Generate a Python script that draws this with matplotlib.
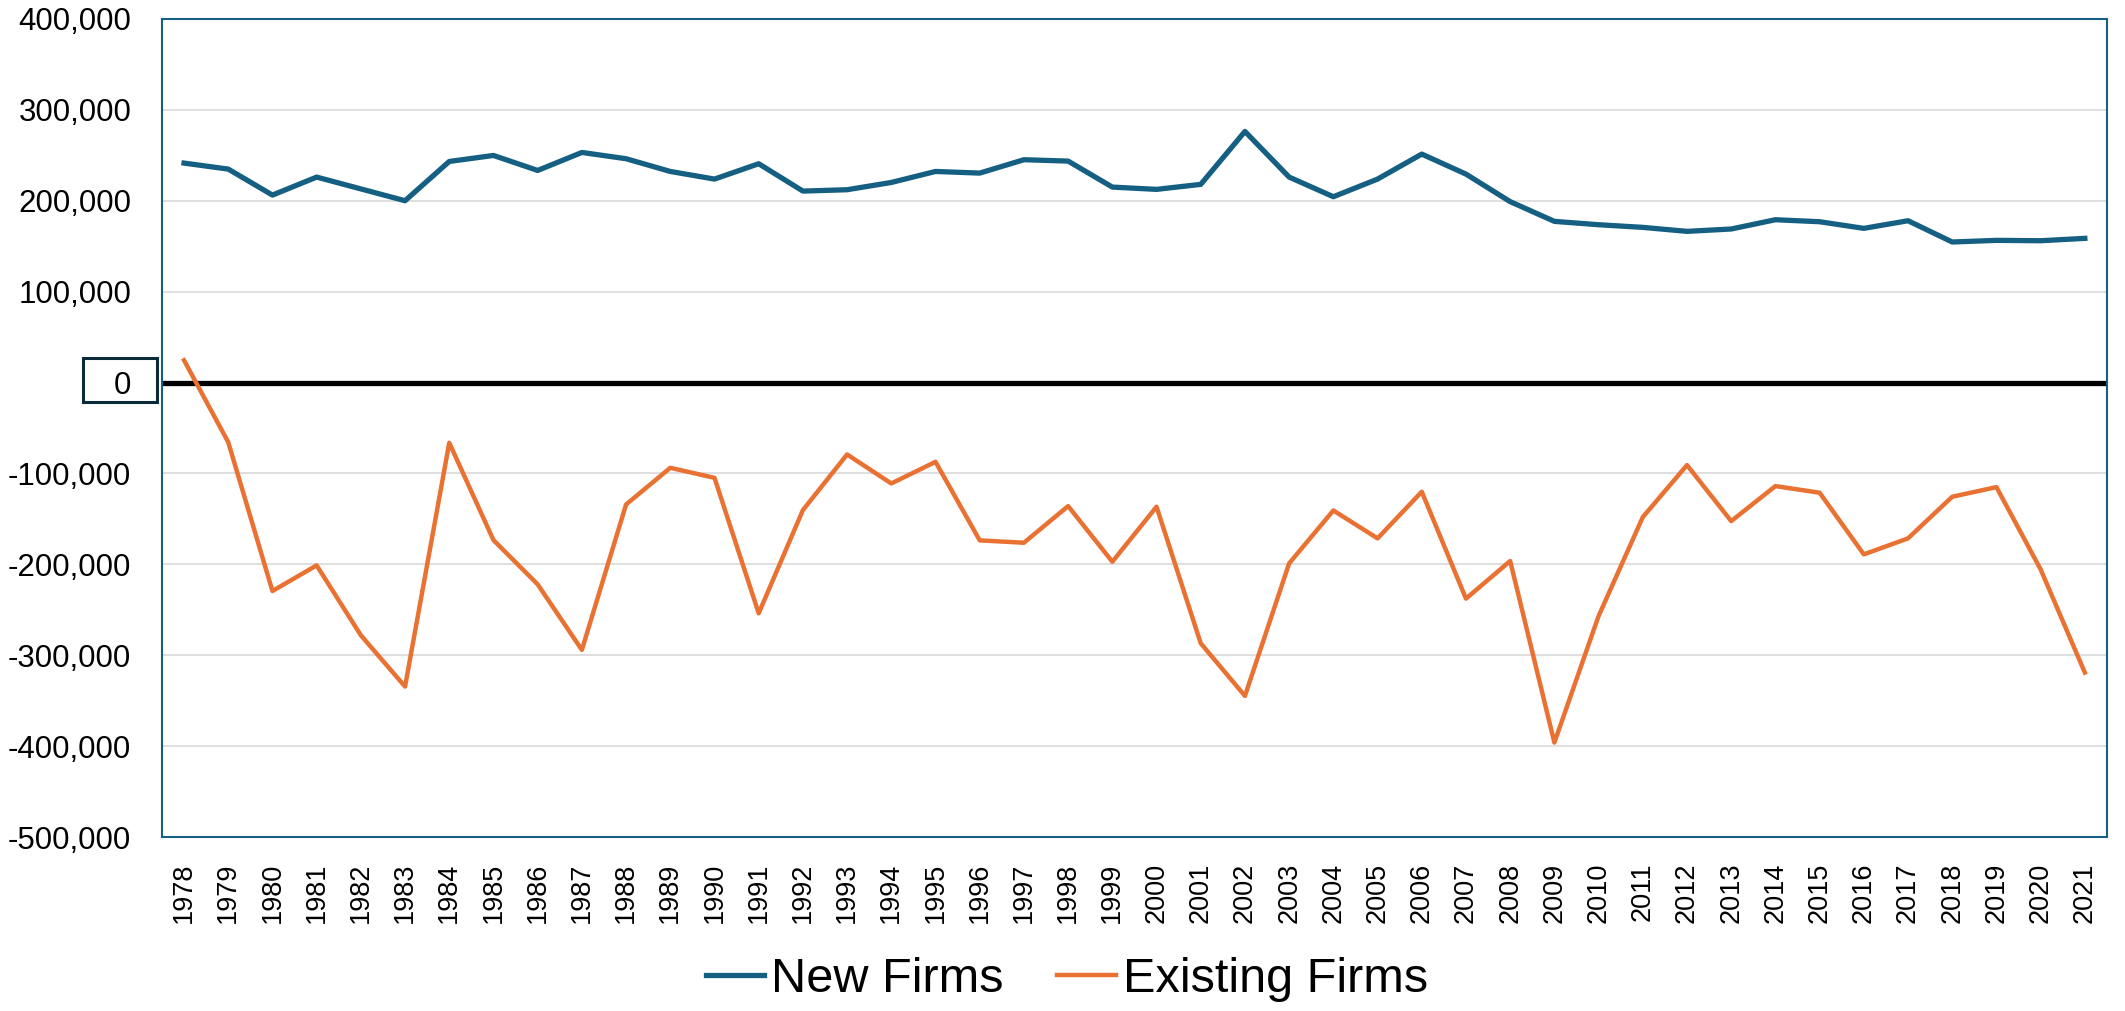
import numpy as np
import matplotlib
matplotlib.use('Agg')
import matplotlib.pyplot as plt
from matplotlib.patches import Rectangle
from matplotlib.ticker import FuncFormatter
import matplotlib.transforms as mtransforms

plt.rcParams['font.family'] = ['Liberation Sans', 'DejaVu Sans']

years = list(range(1978, 2022))

# net job creation
new_firms = [241400, 234800, 206200, 226000, 213000, 200000, 243200, 249800,
             233300, 253100, 246200, 232200, 223800, 240700, 210600, 212100,
             220100, 232200, 230400, 245100, 243600, 215000, 212500, 218000,
             276200, 226000, 204400, 223800, 251300, 229300, 199000, 177300,
             173600, 170700, 166300, 168900, 179100, 176900, 169600, 178000,
             154600, 156400, 156000, 158600]
existing_firms = [24500, -65600, -229300, -201100, -278000, -334400, -66300,
                  -173300, -222000, -294100, -134100, -93800, -104800, -253800,
                  -140300, -79100, -111000, -87200, -173600, -176200, -135900,
                  -197100, -136600, -286800, -344700, -198900, -140700, -171400,
                  -120100, -237700, -196300, -396000, -256800, -148000, -90800,
                  -152400, -113900, -121200, -189000, -171400, -125600, -115000,
                  -205500, -319000]
y_ticks = [-500000, -400000, -300000, -200000, -100000, 0,
           100000, 200000, 300000, 400000]

blue = '#156082'
orange = '#E97132'

fig = plt.figure(figsize=(21.25, 10.11), dpi=100)
ax = fig.add_axes([0.0762, 0.172, 0.9153, 0.8093])

x = np.arange(len(years))
ax.plot(x, new_firms, color=blue, lw=3.8, label='New Firms', zorder=3)
ax.plot(x, existing_firms, color=orange, lw=3.2, label='Existing Firms', zorder=3)

ax.set_xlim(-0.5, len(years) - 0.5)
ax.set_ylim(-500000, 400000)
ax.set_yticks(y_ticks)
ax.yaxis.set_major_formatter(FuncFormatter(lambda v, p: f'{v:,.0f}'))
ax.set_xticks(x)
ax.set_xticklabels([str(y) for y in years], rotation=90)

ax.tick_params(axis='y', length=0, pad=22, labelsize=22.5)
ax.tick_params(axis='x', length=0, pad=18.5, labelsize=19.5)
ax.grid(axis='y', color='#d9d9d9', lw=1.2, zorder=0)
ax.set_axisbelow(True)
for s in ax.spines.values():
    s.set_color(blue)
    s.set_linewidth(1.5)

# heavy zero line and boxed zero label
ax.axhline(0, color='black', lw=3.8, zorder=2)
trans = mtransforms.blended_transform_factory(ax.transAxes, ax.transData)
ax.add_patch(Rectangle((-0.0406, -21000), 0.038, 48000, transform=trans,
                       fill=False, edgecolor='#0b2a3a', lw=2.2, clip_on=False))

fig.legend(loc='center', bbox_to_anchor=(0.502, 0.031), ncol=2, frameon=False,
           fontsize=35, handlelength=1.2, handletextpad=0.15, columnspacing=1.1)

fig.savefig('out.png', dpi=100)
